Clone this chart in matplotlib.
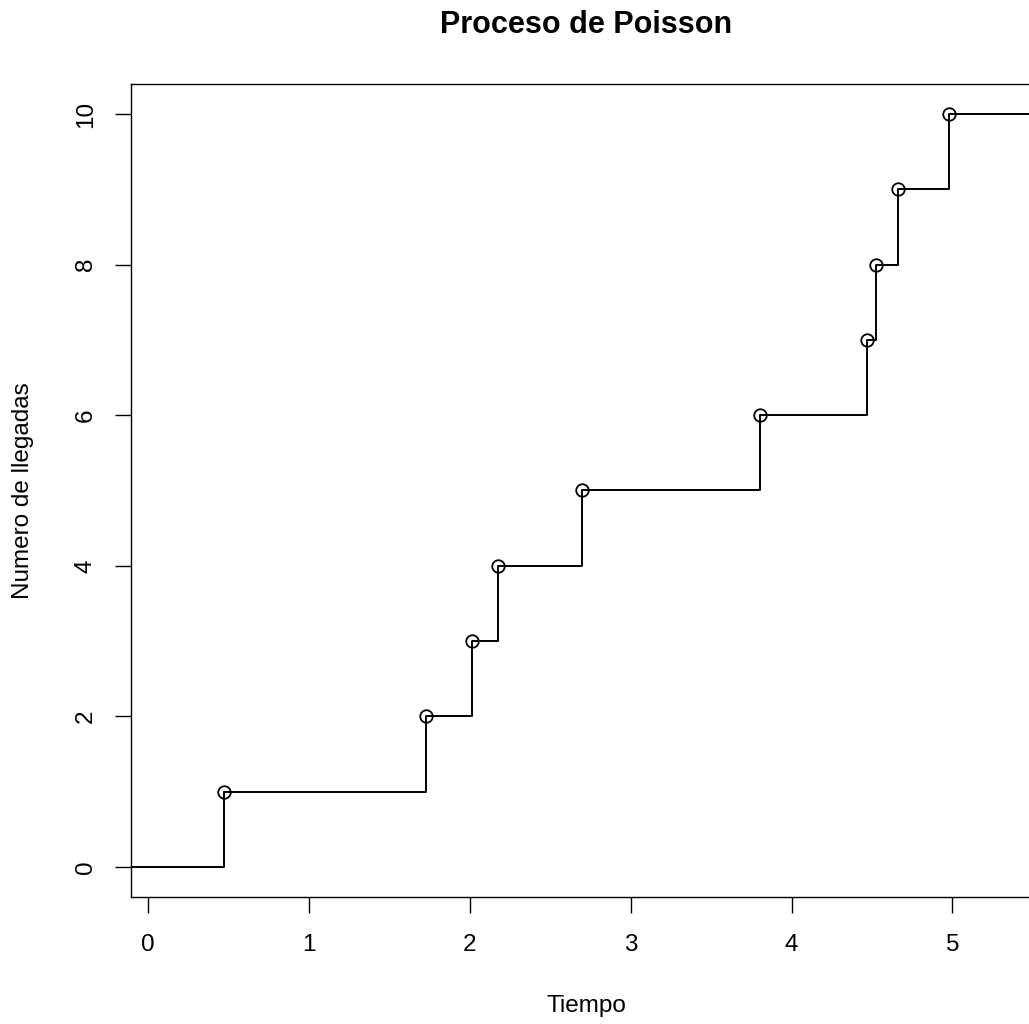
import matplotlib.pyplot as plt

plt.rcParams['font.family'] = ['Liberation Sans', 'DejaVu Sans']

# tiempos de llegada y numero acumulado de llegadas
tiempos = [0.472, 1.726, 2.016, 2.177, 2.695, 3.804, 4.470, 4.525, 4.663, 4.976]
llegadas = [1, 2, 3, 4, 5, 6, 7, 8, 9, 10]
xticks = [0, 1, 2, 3, 4, 5]
yticks = [0, 2, 4, 6, 8, 10]


def main():
    fig = plt.figure(figsize=(10.29, 10.24), dpi=100)
    ax = fig.add_axes([0.1273, 0.124, 0.8843, 0.794])

    # escalera: empieza en 0 antes del eje y sigue hasta el final
    xs = [-1.0] + tiempos + [10.0]
    ys = [0] + llegadas + [llegadas[-1]]
    ax.step(xs, ys, where='post', color='black', lw=1.4)
    ax.plot(tiempos, llegadas, 'o', mfc='none', mec='black', ms=9, mew=1.3)

    ax.set_xlim(-0.106, 5.55)
    ax.set_ylim(-0.4, 10.4)
    ax.set_xticks(xticks)
    ax.set_yticks(yticks)
    ax.set_yticklabels([str(v) for v in yticks], rotation=90, va='center')
    ax.tick_params(axis='both', direction='out', length=11.5, width=1.0,
                   labelsize=17.5)
    ax.tick_params(axis='x', pad=15)
    ax.tick_params(axis='y', pad=13)
    for s in ax.spines.values():
        s.set_linewidth(1.0)

    ax.set_xlabel('Tiempo', fontsize=17.5)
    ax.set_ylabel('Numero de llegadas', fontsize=17.5)
    ax.xaxis.set_label_coords(0.5, -0.121)
    ax.yaxis.set_label_coords(-0.1066, 0.5)
    ax.set_title('Proceso de Poisson', fontsize=22, fontweight='bold', pad=37)

    fig.savefig('out.png')


main()
